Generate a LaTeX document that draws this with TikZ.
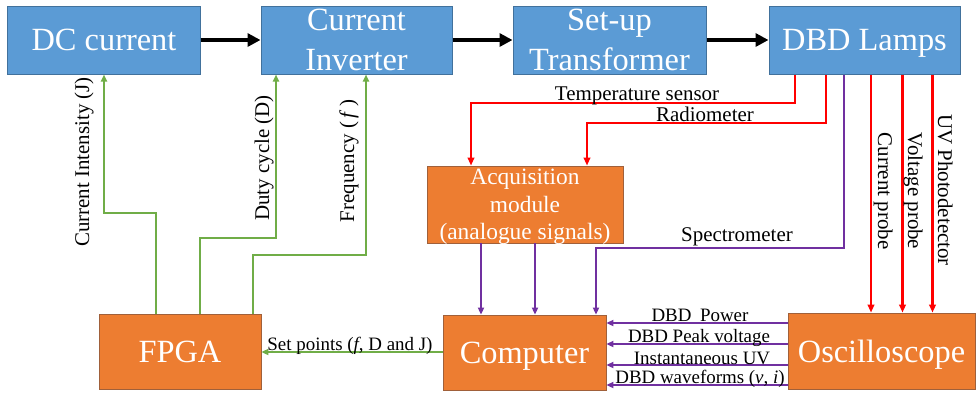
\documentclass[tikz,border=0pt]{standalone}
\usepackage{fontspec}
\setmainfont{Liberation Serif}
\usetikzlibrary{arrows.meta}
\definecolor{boxblue}{HTML}{5B9BD5}
\definecolor{boxblueline}{HTML}{41719C}
\definecolor{boxorange}{HTML}{ED7D31}
\definecolor{boxorangeline}{HTML}{A0603A}
\definecolor{lgreen}{HTML}{70AD47}
\definecolor{lred}{HTML}{FF0000}
\definecolor{lpurple}{HTML}{7030A0}
\begin{document}
\begin{tikzpicture}[x=1bp,y=-1bp,
  bluebox/.style={draw=boxblueline, line width=1bp, fill=boxblue, text=white,
    font=\fontsize{32.5}{40}\selectfont, align=center, inner sep=0pt, text depth=0pt},
  orangebox/.style={draw=boxorangeline, line width=0.8bp, fill=boxorange, text=white,
    font=\fontsize{32.5}{40}\selectfont, align=center, inner sep=0pt, text depth=0pt},
  mainarrow/.style={draw=black, line width=4.5bp, -{Triangle[length=13bp,width=13bp]}},
  greenarrow/.style={draw=lgreen, line width=2bp, -{Triangle[length=7bp,width=6bp]}},
  redarrow/.style={draw=lred, line width=2.2bp, -{Triangle[length=8bp,width=6.5bp]}},
  purplearrow/.style={draw=lpurple, line width=1.8bp, -{Triangle[length=7bp,width=6bp]}},
  lbl/.style={font=\fontsize{21}{24}\selectfont, inner sep=0pt, anchor=base},
  smalllbl/.style={font=\fontsize{19}{22}\selectfont, inner sep=0pt, anchor=base},
]
\useasboundingbox (0,0) rectangle (976,392);

% boxes
\node[bluebox, minimum width=192bp, minimum height=68bp] (dc) at (104,40) {DC current};
\node[bluebox, minimum width=191bp, minimum height=68bp] (ci) at (356.5,40) {Current\\Inverter};
\node[bluebox, minimum width=193bp, minimum height=68bp] (su) at (609.5,40) {Set-up\\Transformer};
\node[bluebox, minimum width=191bp, minimum height=68bp] (dbd) at (864.5,40) {DBD Lamps};
\node[orangebox, minimum width=196bp, minimum height=77bp,
      font=\fontsize{23.5}{27.5}\selectfont] (acq) at (525,204.5) {Acquisition\\module\\(analogue signals)};
\node[orangebox, minimum width=163bp, minimum height=75bp] (comp) at (524.5,352.5) {Computer};
\node[orangebox, minimum width=187bp, minimum height=76bp] (osc) at (881.5,351) {Oscilloscope};
\node[orangebox, minimum width=162bp, minimum height=75bp] (fpga) at (180,351.5) {FPGA};

% main chain
\draw[mainarrow] (dc.east) -- (ci.west);
\draw[mainarrow] (ci.east) -- (su.west);
\draw[mainarrow] (su.east) -- (dbd.west);

% green control lines
\coordinate (gA1) at (156,213); \coordinate (gA2) at (104,213);
\coordinate (gB1) at (200,238); \coordinate (gB2) at (276,238);
\coordinate (gC1) at (253,255); \coordinate (gC2) at (366,255);
\draw[greenarrow] (fpga.north -| gA1) -- (gA1) -- (gA2) -- (dc.south -| gA2);
\draw[greenarrow] (fpga.north -| gB1) -- (gB1) -- (gB2) -- (ci.south -| gB2);
\draw[greenarrow] (fpga.north -| gC1) -- (gC1) -- (gC2) -- (ci.south -| gC2);
\coordinate (sp) at (0,352);
\draw[greenarrow] (comp.west |- sp) -- (fpga.east |- sp);

% red sensor lines
\coordinate (tA1) at (795,103); \coordinate (tA2) at (471,103);
\coordinate (rA1) at (826,123); \coordinate (rA2) at (587,123);
\draw[redarrow] (dbd.south -| tA1) -- (tA1) -- (tA2) -- (acq.north -| tA2);
\draw[redarrow] (dbd.south -| rA1) -- (rA1) -- (rA2) -- (acq.north -| rA2);
\coordinate (pC) at (871,0); \coordinate (pV) at (902.5,0); \coordinate (pU) at (932.5,0);
\draw[redarrow] (dbd.south -| pC) -- (osc.north -| pC);
\draw[redarrow] (dbd.south -| pV) -- (osc.north -| pV);
\draw[redarrow] (dbd.south -| pU) -- (osc.north -| pU);

% purple data lines
\coordinate (sA1) at (844,248); \coordinate (sA2) at (596,248);
\draw[purplearrow] (dbd.south -| sA1) -- (sA1) -- (sA2) -- (comp.north -| sA2);
\coordinate (aA) at (481,0); \coordinate (aB) at (535,0);
\draw[purplearrow] (acq.south -| aA) -- (comp.north -| aA);
\draw[purplearrow] (acq.south -| aB) -- (comp.north -| aB);
\coordinate (o1) at (0,323); \coordinate (o2) at (0,344);
\coordinate (o3) at (0,365); \coordinate (o4) at (0,385);
\draw[purplearrow] (osc.west |- o1) -- (comp.east |- o1);
\draw[purplearrow] (osc.west |- o2) -- (comp.east |- o2);
\draw[purplearrow] (osc.west |- o3) -- (comp.east |- o3);
\draw[purplearrow] (osc.west |- o4) -- (comp.east |- o4);

% labels
\node[lbl, rotate=90] (lJ) at (89,162) {Current Intensity (J)};
\node[lbl, rotate=90] (lD) at (269,158) {Duty cycle (D)};
\node[lbl, rotate=90] (lF) at (354,161) {Frequency (\,\textit{f}\,)};
\node[lbl] (lT) at (637,100) {Temperature sensor};
\node[lbl] (lR) at (705,121.5) {Radiometer};
\node[lbl] (lS) at (737,241) {Spectrometer};
\node[lbl, rotate=-90] (lCp) at (878,191) {Current probe};
\node[lbl, rotate=-90] (lVp) at (908,191) {Voltage probe};
\node[lbl, rotate=-90] (lUV) at (938,190) {UV Photodetector};
\node[smalllbl] (lP1) at (700,321) {DBD\hspace{0.2em} Power};
\node[smalllbl] (lP2) at (699,342.5) {DBD Peak voltage};
\node[smalllbl] (lP3) at (702,364) {Instantaneous UV};
\node[smalllbl] (lP4) at (700,383.5) {DBD waveforms (\textit{v}, \textit{i})};
\node[smalllbl] (lSP) at (350,350) {Set points (\textit{f}, D and J)};
\end{tikzpicture}
\end{document}
